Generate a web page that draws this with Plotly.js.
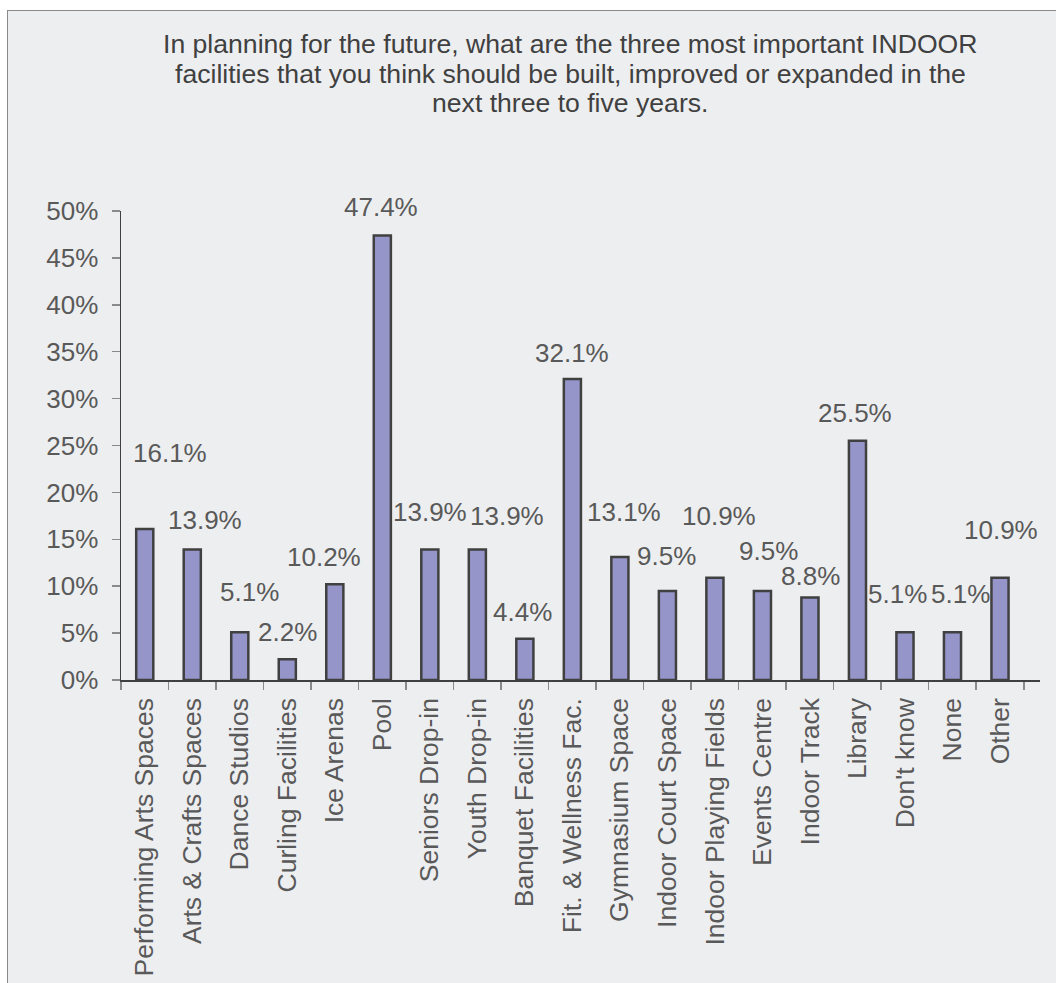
<!DOCTYPE html>
<html>
<head>
<meta charset="utf-8">
<script src="https://cdn.plot.ly/plotly-3.0.1.min.js"></script>
<style>
  html, body { margin: 0; padding: 0; background: #ffffff; }
  #frame { position: absolute; left: 7px; top: 10px; width: 1060px; height: 990px;
           background: #EDEEF0; border-left: 1.5px solid #8a8a8a; border-top: 1.5px solid #8a8a8a; }
  #chart { position: absolute; left: 0; top: 0; width: 1056px; height: 983px; }
</style>
</head>
<body>
<div id="frame"></div>
<div id="chart"></div>
<script>
// ---- data ----
const categories = [
  "Performing Arts Spaces", "Arts & Crafts Spaces", "Dance Studios", "Curling Facilities",
  "Ice Arenas", "Pool", "Seniors Drop-in", "Youth Drop-in", "Banquet Facilities",
  "Fit. & Wellness Fac.", "Gymnasium Space", "Indoor Court Space", "Indoor Playing Fields",
  "Events Centre", "Indoor Track", "Library", "Don't know", "None", "Other"
];
const values = [0.161, 0.139, 0.051, 0.022, 0.102, 0.474, 0.139, 0.139, 0.044,
                0.321, 0.131, 0.095, 0.109, 0.095, 0.088, 0.255, 0.051, 0.051, 0.109];
const yTickVals = [0, 0.05, 0.10, 0.15, 0.20, 0.25, 0.30, 0.35, 0.40, 0.45, 0.50];
const titleLines = [
  "In planning for the future, what are the three most important INDOOR",
  "facilities that you think should be built, improved or expanded in the",
  "next three to five years."
];

// ---- label nudges (pixels, styling only) ----
const labelNudgeX = [25, 13, 10, 0, -11, -1, 0, 30, -2, 0, 4, -1, 4, 6, 1, -2, -7, 8, 1];
const labelNudgeY = [76, 30, 40, 27, 27, 28, 38, 34, 27, 26, 45, 35, 62, 40, 21, 28, 38, 38, 48];

const textColor = "#595959";
const fontFam = "Arial, 'Liberation Sans', Helvetica, sans-serif";

// plot-area geometry (margins) used to place the title lines
const M = { l: 121, r: 16, t: 211, b: 303 };
const W = 1056, H = 983;
const plotH = H - M.t - M.b, plotW = W - M.l - M.r;
const titleCenterXpx = 570, titleFirstYpx = 44, titleLineStep = 29.5;

const trace = {
  type: "bar",
  x: categories,
  y: values,
  marker: { color: "#9595C9", line: { color: "#404040", width: 2.5 } },
  hoverinfo: "skip"
};

const annotations = categories.map((c, i) => ({
  x: c, y: values[i], xref: "x", yref: "y",
  text: (values[i] * 100).toFixed(1) + "%",
  showarrow: false, xanchor: "center", yanchor: "middle",
  xshift: labelNudgeX[i], yshift: labelNudgeY[i],
  font: { family: fontFam, size: 26, color: textColor }
}));

titleLines.forEach((t, k) => {
  annotations.push({
    xref: "paper", yref: "paper",
    x: (titleCenterXpx - M.l) / plotW,
    y: (H - M.b - (titleFirstYpx + k * titleLineStep)) / plotH,
    text: t, showarrow: false, xanchor: "center", yanchor: "middle",
    font: { family: fontFam, size: 26.6, color: "#404040" }
  });
});

const layout = {
  width: W, height: H,
  margin: M,
  paper_bgcolor: "rgba(0,0,0,0)",
  plot_bgcolor: "rgba(0,0,0,0)",
  showlegend: false,
  bargap: 0.64,
  xaxis: {
    type: "category",
    tickangle: -90,
    tickfont: { family: fontFam, size: 26.5, color: textColor },
    showline: true, linecolor: "#404040", linewidth: 1.5,
    ticks: "outside", ticklen: 8, tickcolor: "#8a8a8a", tickwidth: 1.5,
    tickson: "boundaries",
    ticklabelstandoff: 6,
    showgrid: false, zeroline: false, automargin: false
  },
  yaxis: {
    range: [0, 0.5],
    tickvals: yTickVals,
    tickformat: ".0%",
    tickfont: { family: fontFam, size: 26, color: textColor },
    showline: true, linecolor: "#404040", linewidth: 1.5,
    ticks: "outside", ticklen: 8, tickcolor: "#8a8a8a", tickwidth: 1.5,
    ticklabelstandoff: 8,
    showgrid: false, zeroline: false, automargin: false
  },
  annotations: annotations
};

Plotly.newPlot("chart", [trace], layout, { displayModeBar: false, staticPlot: true });
</script>
</body>
</html>
